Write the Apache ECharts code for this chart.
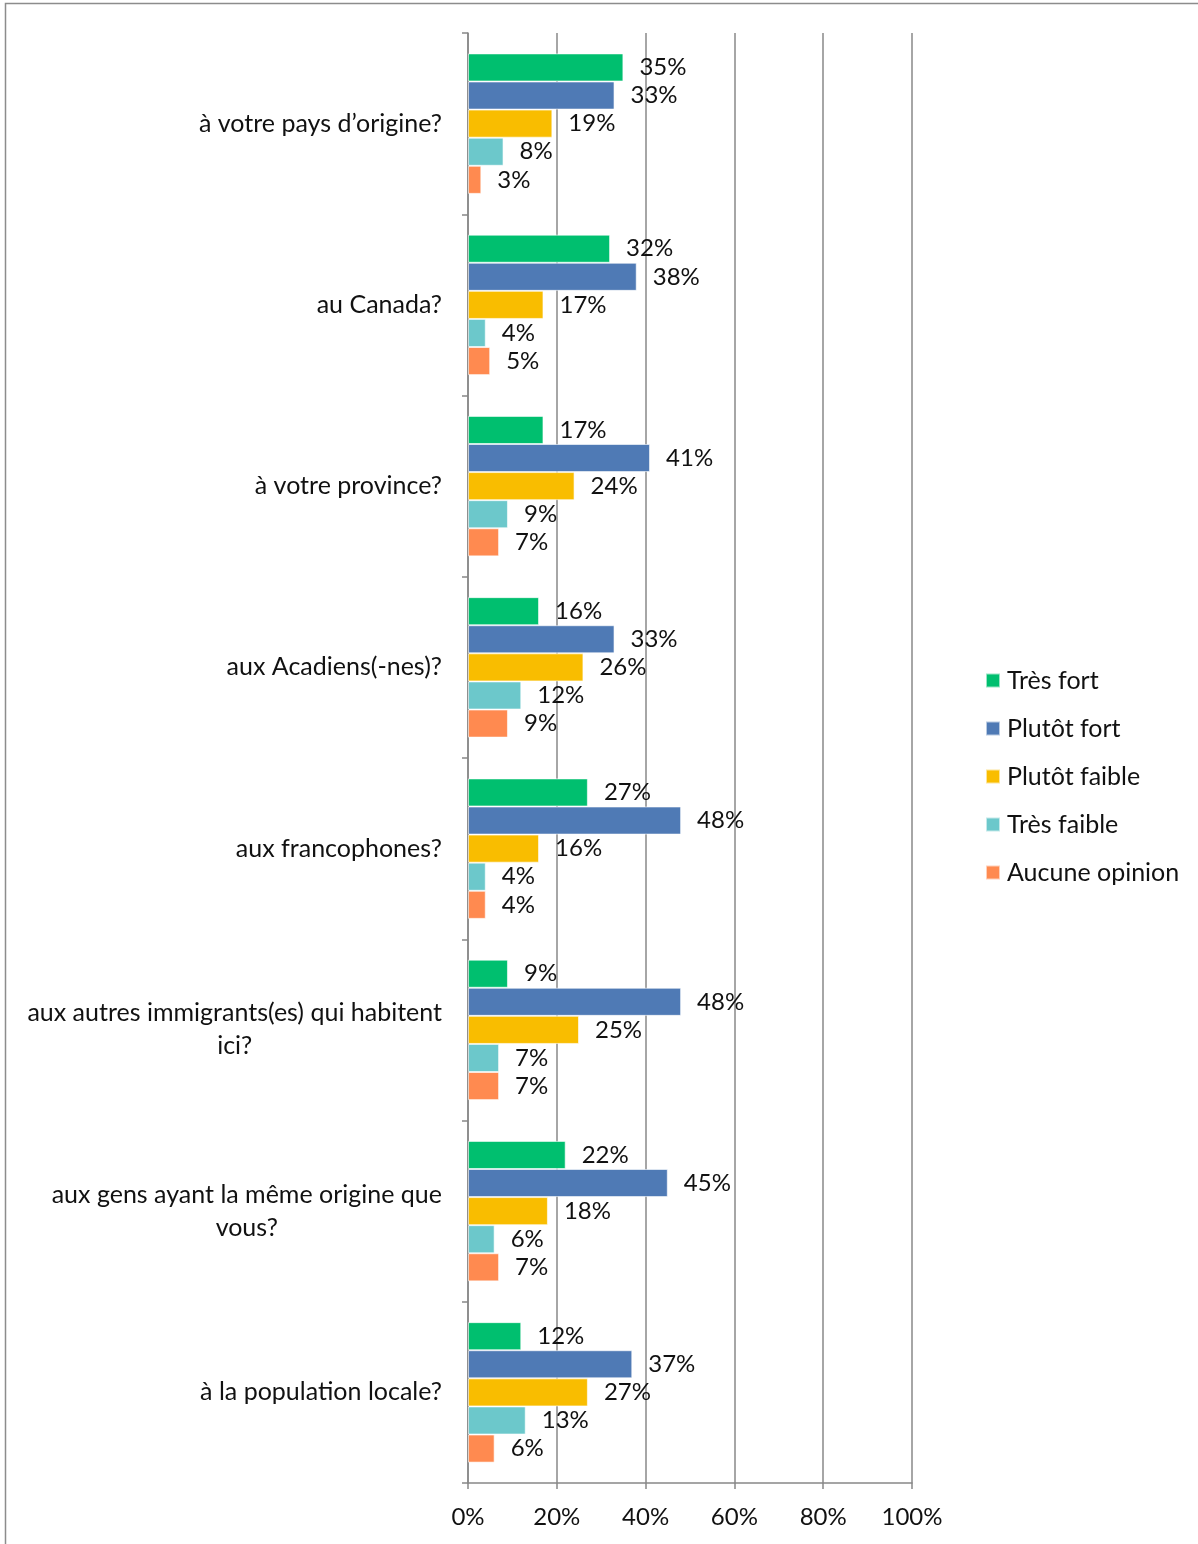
<!DOCTYPE html>
<html>
<head>
<meta charset="utf-8">
<script src="https://cdn.jsdelivr.net/npm/echarts@6/dist/echarts.min.js"></script>
<style>
html,body{margin:0;padding:0;background:#fff;}
#chart{width:1198px;height:1544px;}
</style>
</head>
<body>
<div id="chart"></div>
<script>
var categories = [
  "à votre pays d’origine?",
  "au Canada?",
  "à votre province?",
  "aux Acadiens(-nes)?",
  "aux francophones?",
  "aux autres immigrants(es) qui habitent\nici?",
  "aux gens ayant la même origine que\nvous?",
  "à la population locale?"
];
var seriesNames = ["Très fort", "Plutôt fort", "Plutôt faible", "Très faible", "Aucune opinion"];
var tresFort     = [35, 32, 17, 16, 27, 9, 22, 12];
var plutotFort   = [33, 38, 41, 33, 48, 48, 45, 37];
var plutotFaible = [19, 17, 24, 26, 16, 25, 18, 27];
var tresFaible   = [8, 4, 9, 12, 4, 7, 6, 13];
var aucune       = [3, 5, 7, 9, 4, 7, 7, 6];
var xTicks = [0, 20, 40, 60, 80, 100];

var seriesValues = [tresFort, plutotFort, plutotFaible, tresFaible, aucune];
var colors = ["#00BF6F", "#4F7AB5", "#F9BD00", "#6CC8CB", "#FF8A50"];
var FONT = "Lato";

var chart = echarts.init(document.getElementById('chart'));
var option = {
  animation: false,
  textStyle: {fontFamily: FONT},
  graphic: [{
    type: 'rect', shape: {x: 5.5, y: 3.5, width: 1300, height: 1700},
    style: {fill: 'none', stroke: '#8c8c8c', lineWidth: 1.5}, silent: true, z: -1
  }],
  grid: {left: 468, right: 286, top: 33, bottom: 61},
  legend: {
    orient: 'vertical', left: 985, top: 668, padding: 0,
    itemWidth: 14, itemHeight: 14, itemGap: 23, icon: 'rect',
    data: seriesNames,
    textStyle: {fontFamily: FONT, fontSize: 25, color: '#111', padding: [0, 0, 0, 2]}
  },
  xAxis: {
    type: 'value', min: 0, max: 100, interval: 20,
    axisLine: {show: true, lineStyle: {color: '#888', width: 1.5}},
    axisTick: {show: true, length: 6, lineStyle: {color: '#888', width: 1.5}},
    splitLine: {show: true, lineStyle: {color: '#888', width: 1.5}},
    axisLabel: {fontFamily: FONT, fontSize: 24, color: '#111', margin: 22,
      formatter: function (v) { return xTicks.indexOf(v) >= 0 ? v + '%' : ''; }}
  },
  yAxis: {
    type: 'category', inverse: true, data: categories,
    axisLine: {show: true, lineStyle: {color: '#888', width: 1.5}},
    axisTick: {show: true, length: 6, lineStyle: {color: '#888', width: 1.5}},
    axisLabel: {
      fontFamily: FONT, fontSize: 25, color: '#111', margin: 26, lineHeight: 33,
      formatter: function (v) {
        return v.split('\n').map(function (s) { return '{c|' + s + '}'; }).join('\n');
      },
      rich: {c: {align: 'center', fontFamily: FONT, fontSize: 25, color: '#111', lineHeight: 33}}
    }
  },
  series: seriesNames.map(function (name, i) {
    return {
      name: name, type: 'bar', data: seriesValues[i],
      barGap: '0%', barCategoryGap: '22.5%',
      itemStyle: {color: colors[i], borderColor: 'rgba(255,255,255,0.6)', borderWidth: 1},
      label: {show: true, position: 'right', distance: 16, fontFamily: FONT, fontSize: 24, color: '#111',
        formatter: function (p) { return p.value + '%'; }}
    };
  })
};
chart.setOption(option);
</script>
</body>
</html>
